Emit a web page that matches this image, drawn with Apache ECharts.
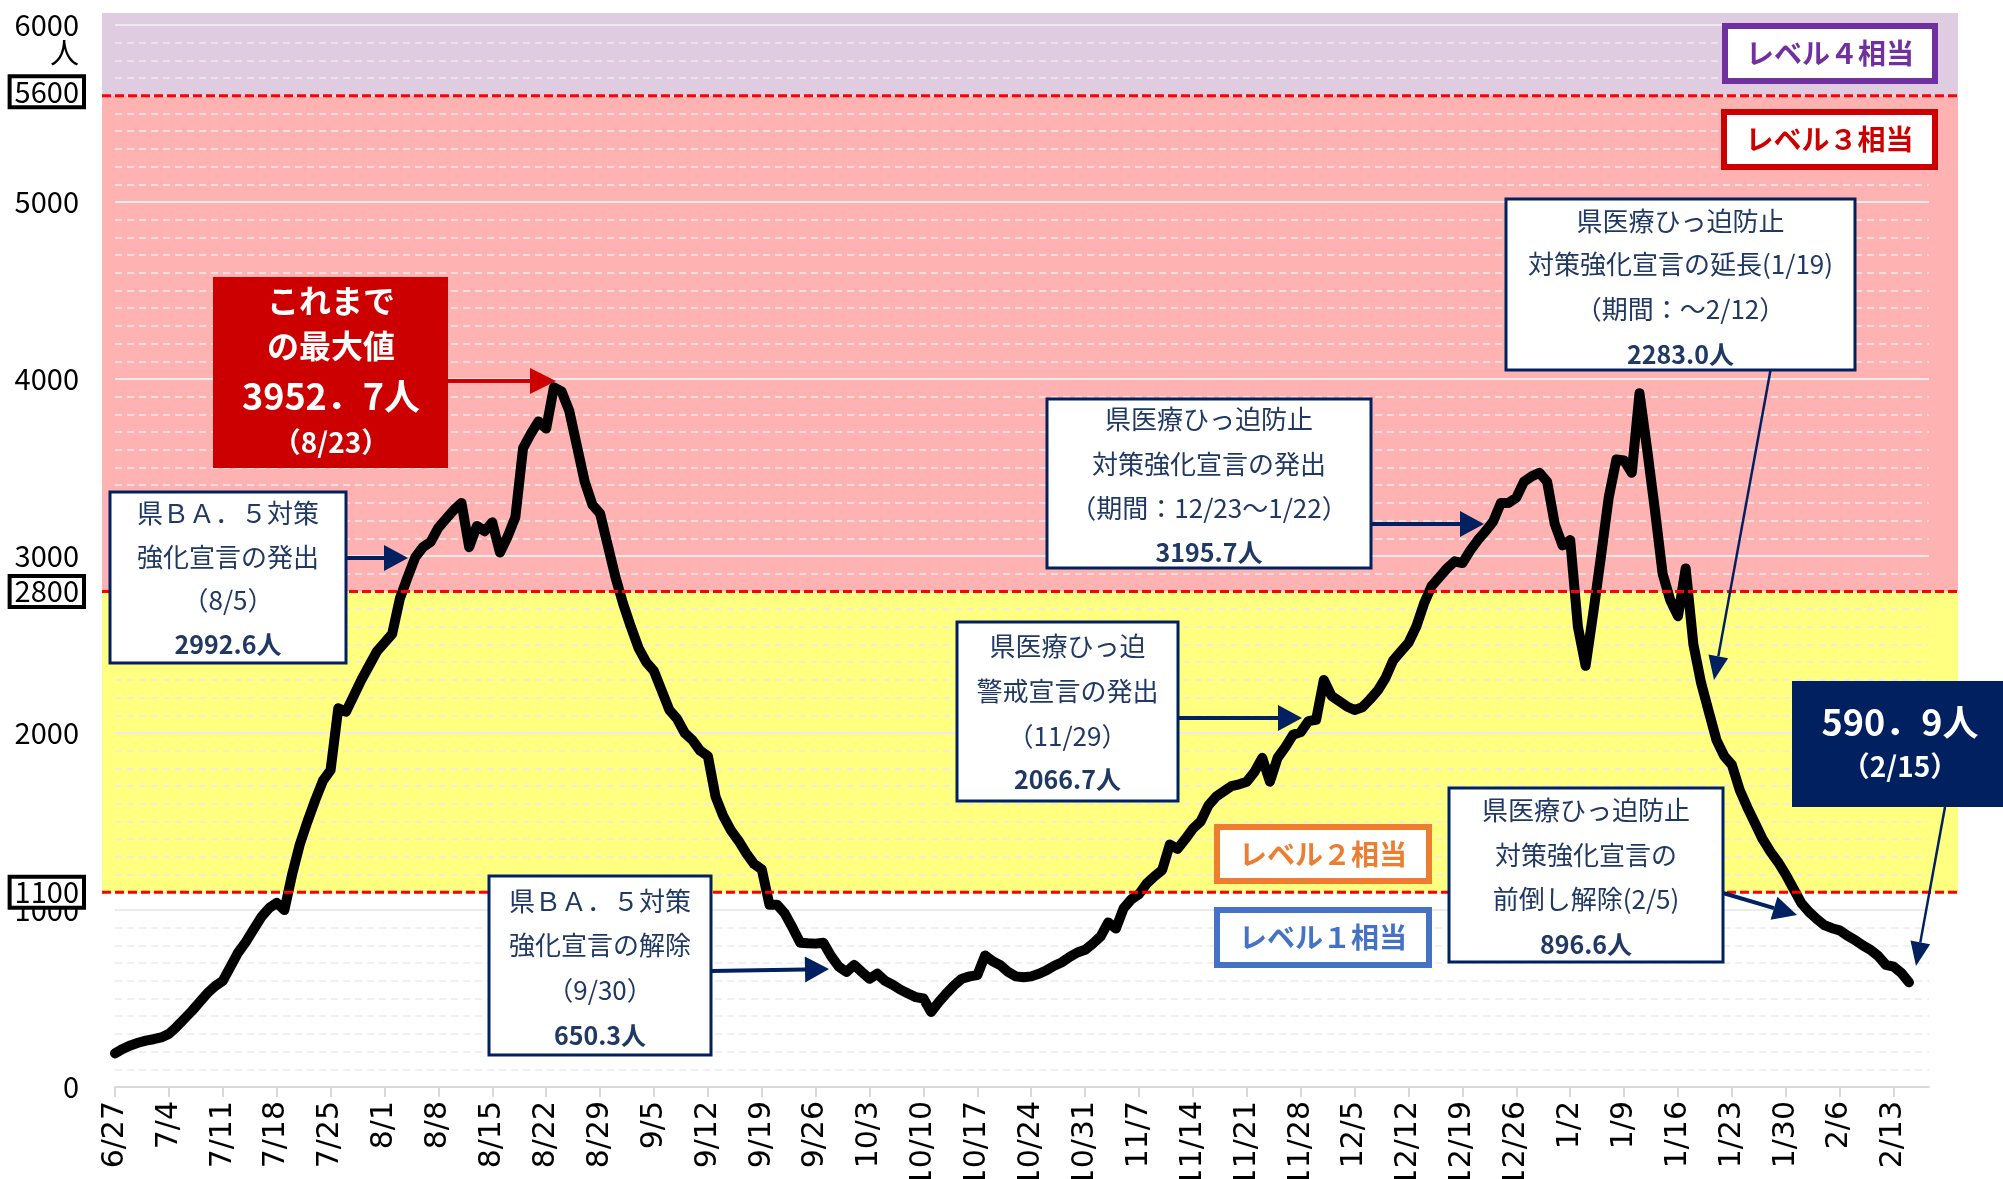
<!DOCTYPE html>
<html>
<head>
<meta charset="utf-8">
<title>新規感染者数の推移</title>
<script src="https://cdn.jsdelivr.net/npm/echarts@6/dist/echarts.min.js"></script>
<style>
  html, body { margin: 0; padding: 0; background: #fff; }
  #chart { width: 2003px; height: 1179px; }
</style>
</head>
<body>
<div id="chart"></div>
<script>
  // x 軸の目盛ラベル（6/27 から 7 日ごと）
  const tickLabels = ['6/27', '7/4', '7/11', '7/18', '7/25', '8/1', '8/8', '8/15', '8/22', '8/29',
    '9/5', '9/12', '9/19', '9/26', '10/3', '10/10', '10/17', '10/24', '10/31', '11/7',
    '11/14', '11/21', '11/28', '12/5', '12/12', '12/19', '12/26', '1/2', '1/9', '1/16',
    '1/23', '1/30', '2/6', '2/13'];

  // 日別の値（月ごと）
  const jun = [190, 215, 235, 250];
  const jul = [262, 270, 280, 300, 340, 385, 430, 480, 530, 570, 600, 680, 760, 820, 890, 960,
    1010, 1040, 1000, 1200, 1370, 1500, 1620, 1730, 1790, 2140, 2120, 2210, 2300, 2380, 2460];
  const aug = [2510, 2560, 2760, 2880, 2993, 3050, 3080, 3160, 3210, 3260, 3300, 3050, 3170, 3140,
    3190, 3020, 3110, 3220, 3610, 3690, 3760, 3720, 3953, 3930, 3820, 3620, 3420, 3290, 3240, 3060, 2880];
  const sep = [2730, 2600, 2480, 2400, 2350, 2240, 2130, 2080, 2000, 1960, 1900, 1870, 1640, 1530,
    1450, 1390, 1320, 1260, 1230, 1030, 1030, 980, 900, 815, 812, 810, 815, 740, 680, 650];
  const oct = [690, 650, 612, 640, 600, 578, 550, 528, 508, 500, 424, 480, 530, 575, 612, 625, 632,
    743, 710, 688, 650, 625, 620, 625, 640, 660, 685, 705, 735, 760, 775];
  const nov = [810, 850, 930, 895, 1010, 1060, 1090, 1150, 1190, 1225, 1370, 1345, 1400, 1460, 1500,
    1590, 1640, 1670, 1700, 1710, 1725, 1780, 1860, 1725, 1860, 1920, 1990, 2005, 2067, 2075];
  const dec = [2300, 2210, 2180, 2150, 2130, 2145, 2190, 2240, 2310, 2410, 2460, 2510, 2600, 2730,
    2830, 2880, 2930, 2970, 2960, 3030, 3090, 3140, 3196, 3300, 3300, 3330, 3420, 3450, 3470, 3420, 3180];
  const jan = [3060, 3090, 2600, 2380, 2680, 3000, 3330, 3545, 3540, 3470, 3920, 3600, 3260, 2900,
    2750, 2660, 2930, 2500, 2283, 2120, 1960, 1870, 1820, 1680, 1580, 1490, 1400, 1330, 1270, 1200, 1120];
  const feb = [1040, 990, 950, 915, 897, 885, 855, 830, 800, 775, 740, 690, 680, 645, 591];

  // レベルの境界
  const levelLines = [1100, 2800, 5600];
  const boxedLabels = ['1100', '2800', '5600'];

  const values = [].concat(jun, jul, aug, sep, oct, nov, dec, jan, feb);
  const tickValues = tickLabels.map((_, i) => i * 7);

  const JP = '"Noto Sans CJK JP", sans-serif';
  const NAVY = '#002060';
  const NOTE_TEXT = '#1F3864';

  // 背景の範囲（プロットエリア）
  const PLOT_LEFT = 102;
  const PLOT_RIGHT = 1958;
  const PLOT_TOP = 13;

  const chart = echarts.init(document.getElementById('chart'));

  chart.setOption({
    animation: false,
    backgroundColor: '#ffffff',
    textStyle: { fontFamily: JP },
    grid: { left: 115, right: 74, top: 25, bottom: 92, outerBoundsMode: 'none', containLabel: false },
    xAxis: {
      type: 'value',
      min: 0,
      max: 235.6,
      axisLine: { lineStyle: { color: '#D9D9D9', width: 2 } },
      axisTick: { customValues: tickValues, length: 10, lineStyle: { color: '#D9D9D9', width: 2 } },
      axisLabel: {
        customValues: tickValues,
        formatter: (v) => tickLabels[Math.round(v / 7)] || '',
        rotate: 90,
        margin: 14,
        fontFamily: 'DejaVu Sans',
        fontSize: 30,
        color: '#000',
      },
      splitLine: { show: false },
    },
    yAxis: {
      type: 'value',
      min: 0,
      max: 6000,
      interval: 1000,
      axisLine: { show: false },
      axisTick: { show: false },
      axisLabel: { margin: 36, fontSize: 29, color: '#000', fontFamily: JP, formatter: (v) => String(v) },
      splitLine: { lineStyle: { color: '#EBEBEB', width: 2 } },
      minorTick: { show: false, splitNumber: 10 },
      minorSplitLine: { show: true, lineStyle: { color: '#EBEBEB', width: 1.5, type: [7, 5] } },
    },
    series: [
      {
        name: '新規感染者数',
        type: 'line',
        data: values.map((v, i) => [i, v]),
        showSymbol: false,
        z: 5,
        lineStyle: { color: '#000', width: 10, cap: 'round', join: 'round' },
      },
    ],
  });

  const yPix = (v) => chart.convertToPixel({ yAxisIndex: 0 }, v);

  function band(yTop, yBottom, color) {
    return {
      type: 'rect', z: -1, silent: true,
      shape: { x: PLOT_LEFT, y: yTop, width: PLOT_RIGHT - PLOT_LEFT, height: yBottom - yTop },
      style: { fill: color },
    };
  }

  function arrow(x1, y1, x2, y2, color, width, headLen, headW) {
    const a = Math.atan2(y2 - y1, x2 - x1);
    const bx = x2 - headLen * Math.cos(a);
    const by = y2 - headLen * Math.sin(a);
    const px = -Math.sin(a) * headW / 2;
    const py = Math.cos(a) * headW / 2;
    return [
      { type: 'line', z: 20, silent: true, shape: { x1, y1, x2: bx, y2: by }, style: { stroke: color, lineWidth: width } },
      { type: 'polygon', z: 20, silent: true, shape: { points: [[x2, y2], [bx + px, by + py], [bx - px, by - py]] }, style: { fill: color } },
    ];
  }

  function textEl(x, y, text, size, color, weight) {
    return {
      type: 'text', z: 22, silent: true, x, y,
      style: {
        text, fill: color, fontSize: size, fontFamily: JP, fontWeight: weight || 'normal',
        align: 'center', verticalAlign: 'middle',
      },
    };
  }

  // 白地に紺枠の注記
  function noteBox(x1, y1, x2, y2, lines, rows) {
    const els = [{
      type: 'rect', z: 21, silent: true,
      shape: { x: x1, y: y1, width: x2 - x1, height: y2 - y1 },
      style: { fill: '#fff', stroke: NAVY, lineWidth: 3 },
    }];
    const cx = (x1 + x2) / 2;
    lines.forEach((t, i) => {
      const last = i === lines.length - 1;
      els.push(textEl(cx, rows[i], t, last ? 25 : 26, NOTE_TEXT, last ? 'bold' : 'normal'));
    });
    return els;
  }

  function levelBox(x1, y1, x2, y2, text, color) {
    return [
      {
        type: 'rect', z: 21, silent: true,
        shape: { x: x1 + 3, y: y1 + 3, width: x2 - x1 - 6, height: y2 - y1 - 6 },
        style: { fill: '#fff', stroke: color, lineWidth: 6 },
      },
      textEl((x1 + x2) / 2, (y1 + y2) / 2, text, 28, color, 'bold'),
    ];
  }

  const graphic = [
    band(PLOT_TOP, yPix(5600), '#DFCCE0'),
    band(yPix(5600), yPix(2800), '#FFB2B2'),
    band(yPix(2800), yPix(1100), '#FFFF80'),
  ];

  levelLines.forEach((v) => {
    graphic.push({
      type: 'line', z: 10, silent: true,
      shape: { x1: PLOT_LEFT, y1: yPix(v), x2: PLOT_RIGHT, y2: yPix(v) },
      style: { stroke: '#FF0000', lineWidth: 3, lineDash: [9, 4] },
    });
  });

  boxedLabels.forEach((t) => {
    const v = Number(t);
    graphic.push({
      type: 'text', z: 22, silent: true, x: 82, y: yPix(v) - (v === 5600 ? 4 : 0),
      style: {
        text: t, fill: '#000', fontSize: 29, fontFamily: JP, lineHeight: 26,
        align: 'right', verticalAlign: 'middle',
        backgroundColor: '#fff', borderColor: '#000', borderWidth: 4, padding: [1, 3, 0, 3],
      },
    });
  });

  graphic.push({
    type: 'text', z: 22, silent: true, x: 79, y: 53,
    style: { text: '人', fill: '#000', fontSize: 29, fontFamily: JP, align: 'right', verticalAlign: 'middle' },
  });

  // これまでの最大値
  graphic.push({
    type: 'rect', z: 21, silent: true,
    shape: { x: 213, y: 277, width: 235, height: 191 },
    style: { fill: '#CC0000' },
  });
  graphic.push(textEl(331, 301, 'これまで', 32, '#fff', 'bold'));
  graphic.push(textEl(331, 346, 'の最大値', 32, '#fff', 'bold'));
  graphic.push(textEl(331, 396, '3952．7人', 36, '#fff', 'bold'));
  graphic.push(textEl(331, 442, '（8/23）', 28, '#fff', 'bold'));
  graphic.push(...arrow(448, 381, 556, 381, '#CC0000', 4, 26, 26));

  // 最新値
  graphic.push({
    type: 'rect', z: 21, silent: true,
    shape: { x: 1792, y: 681, width: 211, height: 126 },
    style: { fill: NAVY },
  });
  graphic.push(textEl(1900, 722, '590．9人', 36, '#fff', 'bold'));
  graphic.push(textEl(1900, 766, '（2/15）', 28, '#fff', 'bold'));
  graphic.push(...arrow(1945, 807, 1916, 966, NAVY, 2.5, 24, 20));

  graphic.push(...noteBox(110, 492, 346, 663,
    ['県ＢＡ．５対策', '強化宣言の発出', '（8/5）', '2992.6人'], [513, 557, 600, 644]));
  graphic.push(...arrow(346, 558, 408, 558, NAVY, 4, 24, 26));

  graphic.push(...noteBox(489, 876, 711, 1055,
    ['県ＢＡ．５対策', '強化宣言の解除', '（9/30）', '650.3人'], [901, 945, 990, 1035]));
  graphic.push(...arrow(711, 971, 829, 969, NAVY, 4, 24, 26));

  graphic.push(...noteBox(957, 622, 1178, 801,
    ['県医療ひっ迫', '警戒宣言の発出', '（11/29）', '2066.7人'], [646, 691, 736, 779]));
  graphic.push(...arrow(1178, 718, 1302, 718, NAVY, 4, 24, 26));

  graphic.push(...noteBox(1047, 399, 1371, 568,
    ['県医療ひっ迫防止', '対策強化宣言の発出', '（期間：12/23～1/22）', '3195.7人'], [419, 464, 508, 552]));
  graphic.push(...arrow(1371, 524, 1484, 524, NAVY, 4, 24, 26));

  graphic.push(...noteBox(1506, 199, 1855, 370,
    ['県医療ひっ迫防止', '対策強化宣言の延長(1/19)', '（期間：～2/12）', '2283.0人'], [221, 264, 309, 354]));
  graphic.push(...arrow(1772, 362, 1714, 680, NAVY, 2.5, 24, 20));

  graphic.push(...noteBox(1449, 788, 1723, 962,
    ['県医療ひっ迫防止', '対策強化宣言の', '前倒し解除(2/5)', '896.6人'], [810, 855, 899, 944]));
  graphic.push(...arrow(1723, 893, 1797, 915, NAVY, 4, 24, 24));

  graphic.push(...levelBox(1722, 23, 1938, 84, 'レベル４相当', '#7030A0'));
  graphic.push(...levelBox(1721, 109, 1938, 170, 'レベル３相当', '#CC0000'));
  graphic.push(...levelBox(1214, 824, 1432, 884, 'レベル２相当', '#ED7D31'));
  graphic.push(...levelBox(1214, 907, 1432, 968, 'レベル１相当', '#4472C4'));

  chart.setOption({ graphic });
</script>
</body>
</html>
